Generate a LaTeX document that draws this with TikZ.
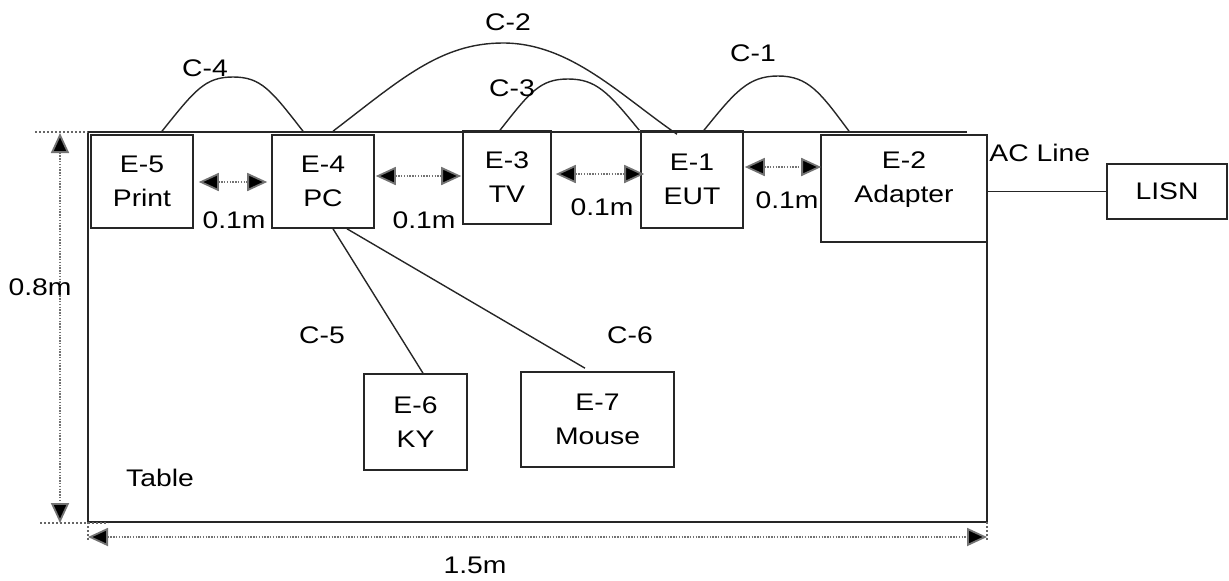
\documentclass[tikz,border=0pt]{standalone}
\usepackage{fontspec}
\setmainfont{Liberation Sans}[FakeStretch=1.18]
\usetikzlibrary{arrows.meta,calc}
\begin{document}
\begin{tikzpicture}[x=0.5pt,y=-0.5pt,
  every node/.style={font=\fontsize{12}{17}\selectfont},
  box/.style={draw=black!85,line width=0.8pt,inner sep=0pt,align=center},
  cable/.style={draw=black!85,line width=0.7pt},
  dimline/.style={draw=black!55,line width=0.9pt,dash pattern=on 0.7pt off 0.7pt,
    {Triangle[length=10pt,width=9pt,fill=black]}-{Triangle[length=10pt,width=9pt,fill=black]}},
  ext/.style={draw=black!60,line width=0.7pt,dash pattern=on 0.9pt off 1.1pt},
  lbl/.style={inner sep=0pt}]
\useasboundingbox (0,0) rectangle (1229,580);
% table
\draw[line width=0.9pt,black!85] (967,132) -- (88,132) -- (88,522) -- (987,522) -- (987,242);
% boxes
\node[box,minimum width=51pt,minimum height=46.5pt] (e5) at (142,181.5) {E-5\\Print};
\node[box,minimum width=51pt,minimum height=46.5pt] (e4) at (323,181.5) {E-4\\PC};
\node[box,minimum width=44pt,minimum height=46.5pt] (e3) at (507,177.5) {E-3\\TV};
\node[box,minimum width=51pt,minimum height=48.5pt] (e1) at (692,179.5) {E-1\\EUT};
\node[box,minimum width=83pt,minimum height=53.5pt,fill=white] (e2) at (904,188.5) {};
\node[lbl,align=center] (e2t) at (904,180) {E-2\\Adapter};
\node[box,minimum width=60pt,minimum height=27.5pt] (lisn) at (1167,191.5) {LISN};
\node[box,minimum width=51.5pt,minimum height=48pt] (e6) at (415.5,422) {E-6\\KY};
\node[box,minimum width=76.5pt,minimum height=47.5pt] (e7) at (597.5,419.5) {E-7\\Mouse};
% cable end points
\coordinate (c4a) at ($(e5.north)+(20,-3)$);
\coordinate (c4b) at ($(e4.north)+(-20,-3)$);
\coordinate (c2a) at ($(e4.north)+(10,-3)$);
\coordinate (c2b) at ($(e1.north)+(-15,4)$);
\coordinate (c3a) at ($(e3.north)+(-7,0)$);
\coordinate (c3b) at ($(e1.north west)+(-1,0)$);
\coordinate (c1a) at ($(e1.north)+(12,0)$);
\coordinate (c1b) at ($(e2.north)+(-55,-3)$);
% cables
\draw[cable] (c4a) .. controls (195,90) and (205,77) .. (233,77)
  .. controls (261,77) and (271,90) .. (c4b);
\draw[cable] (c2a) .. controls (400,80) and (440,43) .. (503,43)
  .. controls (570,43) and (620,95) .. (c2b);
\draw[cable] (c3a) .. controls (530,92) and (540,79) .. (568,79)
  .. controls (596,79) and (608,92) .. (c3b);
\draw[cable] (c1a) .. controls (735,92) and (748,76) .. (778,76)
  .. controls (808,76) and (820,92) .. (c1b);
\draw[cable] ($(e4.south)+(10,0)$) -- ($(e6.north)+(7.5,0)$);
\draw[cable] ($(e4.south)+(24,0)$) -- ($(e7.north)+(-12.5,-3)$);
\draw[cable] (lisn.west -| e2.east) -- (lisn.west);
% distance arrows
\draw[dimline] ($(e5.east)+(5,0.5)$) -- ($(e4.west)+(-4,0.5)$);
\draw[dimline] ($(e4.east)+(1,-5.5)$) -- ($(e3.west)+(-1,-1.5)$);
\draw[dimline] ($(e3.east)+(4,-3.5)$) -- ($(e1.west)+(4,-5.5)$);
\draw[dimline] ($(e1.east)+(1,-12.5)$) -- ($(e2.west)+(1,-21.5)$);
% dimension lines
\coordinate (tl) at (88,132);
\coordinate (bl) at (88,522);
\coordinate (br) at (987,522);
\draw[ext] (35,132) -- (tl);
\draw[ext] (40,523) -- (108,523);
\draw[ext] (bl) -- (88,540);
\draw[ext] (br) -- (987,540);
\draw[dimline] (60,133) -- (60,523);
\draw[dimline] (88,537) -- (987,537);
% labels
\node[lbl] (lc4) at (205,68) {C-4};
\node[lbl] (lc2) at (508,22) {C-2};
\node[lbl] (lc3) at (512,88) {C-3};
\node[lbl] (lc1) at (753,53) {C-1};
\node[lbl] (lc5) at (322,335) {C-5};
\node[lbl] (lc6) at (630,335) {C-6};
\node[lbl] (d1) at (234,220) {0.1m};
\node[lbl] (d2) at (424,220) {0.1m};
\node[lbl] (d3) at (602,207) {0.1m};
\node[lbl] (d4) at (787,200) {0.1m};
\node[lbl,anchor=west] (acl) at (989,153) {AC Line};
\node[lbl] (tab) at (160,478) {Table};
\node[lbl] (h) at (40,287) {0.8m};
\node[lbl] (w) at (475,565) {1.5m};
\end{tikzpicture}
\end{document}
